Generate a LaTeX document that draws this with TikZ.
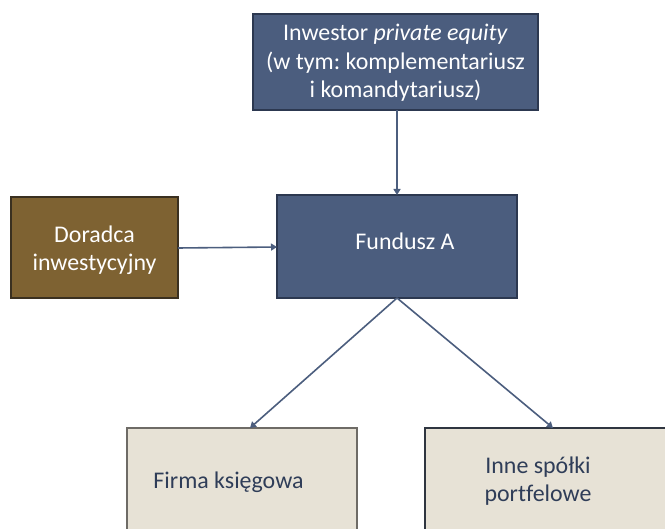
\documentclass[tikz,border=0pt]{standalone}
\usepackage{fontspec}
\setmainfont[Ligatures={NoCommon}]{Carlito}
\frenchspacing
\usetikzlibrary{arrows.meta}
\definecolor{boxblue}{HTML}{4B5D7E}
\definecolor{boxblueedge}{HTML}{2C3850}
\definecolor{boxbrown}{HTML}{7E6232}
\definecolor{boxbrownedge}{HTML}{3A3020}
\definecolor{boxbeige}{HTML}{E7E2D6}
\definecolor{beigeedge}{HTML}{6E6B66}
\definecolor{beigeedgeb}{HTML}{2F3540}
\definecolor{textblue}{HTML}{2F3D58}
\definecolor{arrowblue}{HTML}{4C5E7E}
\begin{document}
\begin{tikzpicture}[x=1bp,y=-1bp,
  font=\fontsize{24}{28.5}\selectfont,
  bluebox/.style={draw=boxblueedge,line width=1.2bp,fill=boxblue},
  brownbox/.style={draw=boxbrownedge,line width=1.2bp,fill=boxbrown},
  beigebox/.style={line width=1.2bp,fill=boxbeige},
  whitetext/.style={text=white,align=center},
  darktext/.style={text=textblue,align=center},
  conn/.style={draw=arrowblue,line width=1.6bp,-{Triangle[length=6bp,width=7bp]}}]
\useasboundingbox (0,0) rectangle (665,529);
\clip (0,0) rectangle (665,529);
\fill[white] (0,0) rectangle (665,529);
% boxes
\draw[bluebox] (253,14) rectangle (538,110);
\node[whitetext] (inw) at (395.5,63) {Inwestor \textit{private equity}\\(w tym: komplementariusz\\i komandytariusz)};
\coordinate (inwb) at (397,110);
\draw[brownbox] (11,197) rectangle (178,298);
\node[whitetext] (dor) at (94.5,250) {Doradca\\inwestycyjny};
\coordinate (dorr) at (178,248);
\draw[bluebox] (277,195) rectangle (517,298);
\node[whitetext] (fun) at (405,241) {Fundusz A};
\coordinate (funt) at (397,195);
\coordinate (funl) at (277,247);
\coordinate (funb) at (397,298);
\draw[beigebox,draw=beigeedge] (127,428) rectangle (357,560);
\node[darktext] (fir) at (228.5,482) {Firma księgowa};
\coordinate (firt) at (250,428);
\draw[beigebox,draw=beigeedgeb] (425,428) rectangle (680,560);
\node[darktext] (inn) at (538,481) {Inne spółki\\portfelowe};
\coordinate (innt) at (553,428);
% connectors
\draw[conn] (inwb) -- (funt);
\draw[conn] (dorr) -- (funl);
\draw[conn] (funb) -- (firt);
\draw[conn] (funb) -- (innt);
\end{tikzpicture}
\end{document}
